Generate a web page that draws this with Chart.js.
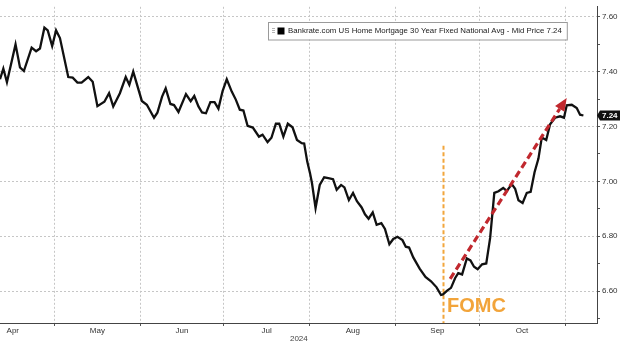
<!DOCTYPE html>
<html><head><meta charset="utf-8">
<script src="https://cdn.jsdelivr.net/npm/chart.js@4.4.1/dist/chart.umd.min.js"></script>
<style>html,body{margin:0;padding:0;background:#fff;}#wrap{position:relative;width:620px;height:344px;}canvas{display:block;}</style>
</head><body><div id="wrap"><canvas id="c" width="620" height="344"></canvas></div>
<script>
const seriesName = 'Bankrate.com US Home Mortgage 30 Year Fixed National Avg - Mid Price';
// x = day of year 2024 (Jan 1 = 0)
const days = [101.4,102.6,103.9,107.0,108.6,110.0,112.8,114.4,115.8,117.4,
118.6,120.2,121.6,123.0,126.0,127.6,129.3,130.8,133.2,134.8,
136.5,139.0,140.7,142.2,144.6,146.7,148.0,149.4,152.5,154.3,
156.9,158.1,159.8,161.1,162.8,164.1,165.7,168.4,170.1,171.4,
172.9,174.2,175.6,177.2,178.7,180.1,181.6,183.1,184.9,186.4,
187.8,189.1,190.6,192.5,194.7,196.0,197.8,199.2,200.8,202.0,
203.5,205.1,206.8,208.4,210.1,211.0,212.1,213.1,213.8,215.1,
216.6,218.2,219.7,221.4,222.7,224.3,225.5,227.1,228.6,230.0,
231.7,232.9,234.2,235.7,237.1,238.8,240.1,241.7,243.1,244.6,
246.4,247.6,248.8,250.3,252.6,254.7,256.7,258.7,260.3,261.0,
262.5,263.9,265.4,266.5,267.9,269.6,270.9,272.2,273.5,275.1,
276.6,278.0,279.5,281.0,282.7,284.0,285.8,287.0,288.2,289.7,
291.2,292.6,294.0,295.4,296.6,298.2,299.6,301.4,303.2,304.6,
305.6,307.4,309.2,310.4,311.6];
const rates = [7.372,7.411,7.361,7.499,7.415,7.402,7.487,7.474,7.484,7.560,
7.550,7.493,7.550,7.522,7.380,7.378,7.360,7.360,7.380,7.363,
7.274,7.290,7.321,7.273,7.321,7.380,7.352,7.400,7.293,7.279,
7.232,7.250,7.309,7.339,7.282,7.278,7.253,7.318,7.292,7.311,
7.273,7.251,7.248,7.289,7.289,7.265,7.329,7.372,7.327,7.297,
7.261,7.258,7.202,7.196,7.163,7.170,7.143,7.159,7.210,7.210,
7.163,7.210,7.197,7.151,7.139,7.138,7.072,7.030,6.994,6.903,
6.987,7.015,7.012,7.008,6.969,6.987,6.978,6.932,6.958,6.928,
6.905,6.880,6.864,6.887,6.842,6.848,6.827,6.771,6.790,6.798,
6.786,6.762,6.759,6.723,6.682,6.652,6.636,6.614,6.586,6.588,
6.602,6.612,6.648,6.666,6.661,6.719,6.712,6.689,6.680,6.698,
6.701,6.794,6.958,6.964,6.976,6.965,6.990,6.973,6.931,6.921,
6.958,6.962,7.033,7.083,7.160,7.151,7.208,7.232,7.237,7.232,
7.277,7.279,7.267,7.243,7.240];
const monthLabels = ['Apr','May','Jun','Jul','Aug','Sep','Oct'];
const monthStarts = [91,121,152,182,213,244,274,305];
const yearLabel = '2024';
const yTicks = [6.5,6.6,6.7,6.8,6.9,7.0,7.1,7.2,7.3,7.4,7.5,7.6];
const yLabelTicks = [6.6,6.8,7.0,7.2,7.4,7.6];
const fomcDay = 261, fomcTop = 7.13, fomcLabel = 'FOMC';
const arrowFrom = [263.6, 6.645], arrowTo = [305.6, 7.304];
const lastValue = rates[rates.length-1];

const FONT = "'Liberation Sans', Arial, sans-serif";
const isLabelTick = v => yLabelTicks.some(t => Math.abs(t - v) < 1e-6);

const overlay = {
  id: 'overlay',
  beforeDatasetsDraw(chart) {
    const {ctx, chartArea, scales:{x, y}} = chart;
    const fx = Math.round(x.getPixelForValue(fomcDay)) + 0.5;
    ctx.save();
    ctx.strokeStyle = '#F2A63C'; ctx.lineWidth = 2; ctx.setLineDash([4, 2.5]);
    ctx.beginPath(); ctx.moveTo(fx, y.getPixelForValue(fomcTop)); ctx.lineTo(fx, chartArea.bottom); ctx.stroke();
    ctx.restore();
  },
  afterDatasetsDraw(chart) {
    const {ctx, chartArea, scales:{x, y}} = chart;
    ctx.save();
    // FOMC label
    const fx = x.getPixelForValue(fomcDay);
    ctx.fillStyle = '#F2A43A'; ctx.font = 'bold 20px ' + FONT; ctx.textBaseline = 'alphabetic'; ctx.textAlign = 'left';
    ctx.fillText(fomcLabel, fx + 4, chartArea.bottom - 11);
    // red dashed arrow
    const x1 = x.getPixelForValue(arrowFrom[0]), y1 = y.getPixelForValue(arrowFrom[1]);
    const x2 = x.getPixelForValue(arrowTo[0]), y2 = y.getPixelForValue(arrowTo[1]);
    const ang = Math.atan2(y2 - y1, x2 - x1), hl = 13, hw = 5.5;
    const bx = x2 - hl * Math.cos(ang), by = y2 - hl * Math.sin(ang);
    ctx.strokeStyle = '#C1282E'; ctx.fillStyle = '#C1282E'; ctx.lineWidth = 3.2; ctx.setLineDash([7, 4]);
    ctx.beginPath(); ctx.moveTo(x1, y1); ctx.lineTo(bx, by); ctx.stroke();
    ctx.setLineDash([]);
    ctx.beginPath(); ctx.moveTo(x2, y2);
    ctx.lineTo(bx + hw * Math.sin(ang), by - hw * Math.cos(ang));
    ctx.lineTo(bx - hw * Math.sin(ang), by + hw * Math.cos(ang));
    ctx.closePath(); ctx.fill();
    // legend box
    const txt = seriesName + ' ' + lastValue.toFixed(2);
    ctx.font = '8px ' + FONT;
    const fs = 8 * 274 / ctx.measureText(txt).width;
    ctx.font = fs.toFixed(2) + 'px ' + FONT;
    const tw = ctx.measureText(txt).width;
    const lx = 268, ly = 22, lh = 17.5, lw = (288 - lx) + tw + 5;
    ctx.fillStyle = '#fff'; ctx.fillRect(lx, ly, lw, lh);
    ctx.strokeStyle = '#9a9a9a'; ctx.lineWidth = 1; ctx.strokeRect(lx + 0.5, ly + 0.5, lw, lh);
    ctx.fillStyle = '#b5b5b5'; ctx.fillRect(272, 28, 3, 1); ctx.fillRect(272, 30, 3, 1); ctx.fillRect(272, 32, 3, 1);
    ctx.fillStyle = '#000'; ctx.fillRect(277.5, 27.5, 7, 7);
    ctx.fillStyle = '#222'; ctx.textBaseline = 'middle'; ctx.fillText(txt, 288, ly + lh / 2 + 0.5);
    ctx.restore();
  },
  afterDraw(chart) {
    const {ctx, chartArea, scales:{x, y}} = chart;
    ctx.save();
    // last value tag
    const yc = y.getPixelForValue(lastValue);
    const r = chartArea.right;
    ctx.fillStyle = '#111';
    ctx.beginPath(); ctx.moveTo(r, yc); ctx.lineTo(r + 3, yc - 5); ctx.lineTo(620, yc - 5); ctx.lineTo(620, yc + 5); ctx.lineTo(r + 3, yc + 5); ctx.closePath(); ctx.fill();
    ctx.fillStyle = '#fff'; ctx.font = 'bold 8px ' + FONT; ctx.textBaseline = 'middle'; ctx.textAlign = 'left';
    ctx.fillText(lastValue.toFixed(2), r + 5, yc + 0.5);
    // year label
    ctx.fillStyle = '#444'; ctx.font = '8px ' + FONT; ctx.textAlign = 'right';
    ctx.fillText(yearLabel, x.getPixelForValue(monthStarts[4]) - 2, 339);
    ctx.restore();
  }
};

new Chart(document.getElementById('c'), {
  type: 'line',
  data: { datasets: [{
    label: seriesName,
    data: days.map((d, i) => ({x: d, y: rates[i]})),
    borderColor: '#111', borderWidth: 2.3, pointRadius: 0, tension: 0, fill: false
  }]},
  options: {
    responsive: false, animation: false,
    layout: { padding: 0 },
    plugins: { legend: { display: false }, tooltip: { enabled: false } },
    scales: {
      x: {
        type: 'linear', position: 'bottom', min: 101.4, max: 316.5, weight: 0,
        afterBuildTicks: s => { s.ticks = monthStarts.filter(v => v >= s.min && v <= s.max).map(v => ({value: v})); },
        ticks: { display: false },
        grid: { color: '#c6c6c6', lineWidth: 1, borderDash: [2, 2], drawTicks: true, tickLength: 3, tickColor: '#555', tickWidth: 1, tickBorderDash: [] },
        border: { display: true, color: '#444', width: 1, dash: [2, 2] },
        afterFit: s => { s.height = 0; }
      },
      xl: {
        type: 'linear', position: 'bottom', min: 101.4, max: 316.5, weight: 1,
        afterBuildTicks: s => { s.ticks = monthLabels.map((m, i) => ({value: (monthStarts[i] + monthStarts[i + 1]) / 2})); },
        ticks: { autoSkip: false, maxRotation: 0, padding: 3, color: '#333', font: { family: FONT, size: 8 }, callback: (v, i) => monthLabels[i] },
        grid: { display: false, drawTicks: false }, border: { display: false },
        afterFit: s => { s.height = 21; }
      },
      y: {
        type: 'linear', position: 'right', min: 6.484, max: 7.636,
        afterBuildTicks: s => { s.ticks = yTicks.map(v => ({value: v})); },
        ticks: { autoSkip: false, padding: 2, color: '#333', font: { family: FONT, size: 8 }, callback: v => isLabelTick(v) ? v.toFixed(2) : '' },
        grid: { color: c => (c.tick && isLabelTick(c.tick.value)) ? '#c6c6c6' : 'rgba(0,0,0,0)', lineWidth: 1, borderDash: [2, 2], tickLength: 3, tickColor: '#555', tickWidth: 1, tickBorderDash: [] },
        border: { display: true, color: '#444', width: 1, dash: [2, 2] },
        afterFit: s => { s.width = 23; }
      }
    }
  },
  plugins: [overlay]
});
</script></body></html>
